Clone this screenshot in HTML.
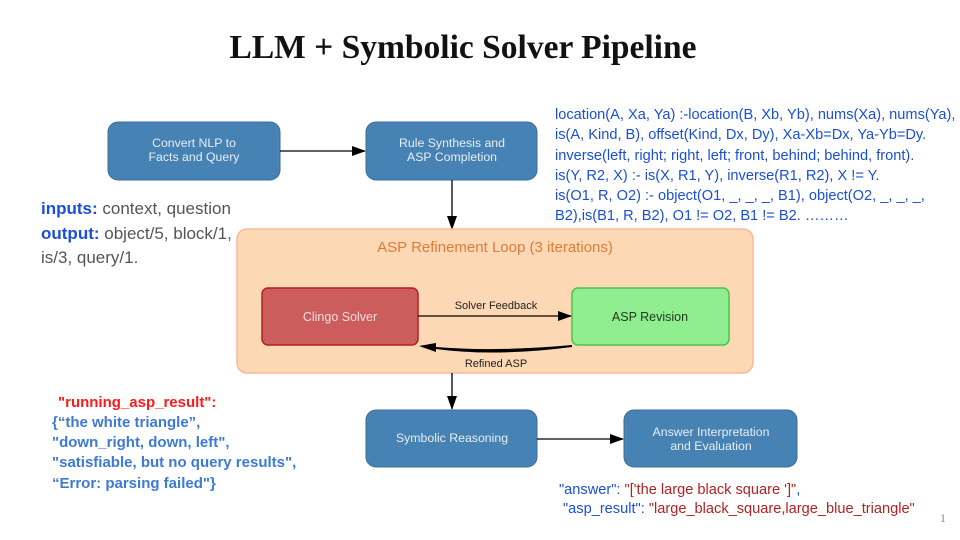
<!DOCTYPE html>
<html><head><meta charset="utf-8"><style>
body{margin:0;background:#fff;}
svg{display:block;}
</style></head><body>
<svg width="960" height="540" viewBox="0 0 960 540" xmlns="http://www.w3.org/2000/svg" font-family="Liberation Sans, sans-serif">
<defs>
<marker id="ah" markerWidth="14" markerHeight="10" refX="13" refY="5" orient="auto" markerUnits="userSpaceOnUse"><path d="M0,0 L14,5 L0,10 z" fill="#000"/></marker>
</defs>
<text x="463" y="58" text-anchor="middle" font-family="Liberation Serif, serif" font-weight="bold" font-size="33.5" fill="#111">LLM + Symbolic Solver Pipeline</text>

<g font-size="14.6" fill="#1a4fd6">
<text x="555" y="119">location(A, Xa, Ya) :-location(B, Xb, Yb), nums(Xa), nums(Ya),</text>
<text x="555" y="139">is(A, Kind, B), offset(Kind, Dx, Dy), Xa-Xb=Dx, Ya-Yb=Dy.</text>
<text x="555" y="160">inverse(left, right; right, left; front, behind; behind, front).</text>
<text x="555" y="180">is(Y, R2, X) :- is(X, R1, Y), inverse(R1, R2), X != Y.</text>
<text x="555" y="200">is(O1, R, O2) :- object(O1, _, _, _, B1), object(O2, _, _, _,</text>
<text x="555" y="220">B2),is(B1, R, B2), O1 != O2, B1 != B2.  ………</text>
</g>

<g font-size="17">
<text x="41" y="214"><tspan fill="#1a4fd6" font-weight="bold">inputs:</tspan><tspan fill="#555"> context, question</tspan></text>
<text x="41" y="239"><tspan fill="#1a4fd6" font-weight="bold">output:</tspan><tspan fill="#555"> object/5, block/1,</tspan></text>
<text x="41" y="263" fill="#555">is/3,  query/1.</text>
</g>

<rect x="108" y="122" width="172" height="58" rx="10" fill="#4682b4" stroke="#3a6d99"/>
<text x="194" y="147" text-anchor="middle" font-size="12.3" fill="#e8eef5">Convert NLP to</text>
<text x="194" y="161" text-anchor="middle" font-size="12.3" fill="#e8eef5">Facts and Query</text>
<rect x="366" y="122" width="171" height="58" rx="10" fill="#4682b4" stroke="#3a6d99"/>
<text x="452" y="147" text-anchor="middle" font-size="12.3" fill="#e8eef5">Rule Synthesis and</text>
<text x="452" y="161" text-anchor="middle" font-size="12.3" fill="#e8eef5">ASP Completion</text>
<line x1="280" y1="151" x2="365" y2="151" stroke="#000" stroke-width="1.3" marker-end="url(#ah)"/>
<line x1="452" y1="180" x2="452" y2="229" stroke="#000" stroke-width="1.3" marker-end="url(#ah)"/>

<rect x="237" y="229" width="516" height="144" rx="10" fill="#fdd8b5" stroke="#f9b89a" stroke-width="1.5"/>
<text x="495" y="252" text-anchor="middle" font-size="15" fill="#e07b3a">ASP Refinement Loop (3 iterations)</text>
<rect x="262" y="288" width="156" height="57" rx="6" fill="#cd5c5c" stroke="#b22222" stroke-width="1.5"/>
<text x="340" y="321" text-anchor="middle" font-size="12.5" fill="#f3dede">Clingo Solver</text>
<rect x="572" y="288" width="157" height="57" rx="6" fill="#90ee90" stroke="#4cc44c" stroke-width="1.5"/>
<text x="650" y="321" text-anchor="middle" font-size="12.5" fill="#1d3a1d">ASP Revision</text>
<line x1="418" y1="316" x2="571" y2="316" stroke="#000" stroke-width="1.2" marker-end="url(#ah)"/>
<text x="496" y="309" text-anchor="middle" font-size="11" fill="#222">Solver Feedback</text>
<path d="M572,345 Q495,352 436,347 L436,343 L419,346 L436,352 L436,349 Q495,357 572,347 z" fill="#000"/>
<text x="496" y="367" text-anchor="middle" font-size="11" fill="#222">Refined ASP</text>
<line x1="452" y1="373" x2="452" y2="409" stroke="#000" stroke-width="1.3" marker-end="url(#ah)"/>

<rect x="366" y="410" width="171" height="57" rx="10" fill="#4682b4" stroke="#3a6d99"/>
<text x="452" y="442" text-anchor="middle" font-size="12.3" fill="#e8eef5">Symbolic Reasoning</text>
<rect x="624" y="410" width="173" height="57" rx="10" fill="#4682b4" stroke="#3a6d99"/>
<text x="711" y="436" text-anchor="middle" font-size="12.3" fill="#e8eef5">Answer Interpretation</text>
<text x="711" y="450" text-anchor="middle" font-size="12.3" fill="#e8eef5">and Evaluation</text>
<line x1="537" y1="439" x2="623" y2="439" stroke="#000" stroke-width="1.3" marker-end="url(#ah)"/>

<g font-size="15" font-weight="bold">
<text x="58" y="407" fill="#ff1a1a">"running_asp_result":</text>
<text x="52" y="427" fill="#3d7ad6">{“the white triangle”,</text>
<text x="52" y="447" fill="#3d7ad6">"down_right, down, left",</text>
<text x="52" y="467" fill="#3d7ad6">"satisfiable, but no query results",</text>
<text x="52" y="488" fill="#3d7ad6">“Error: parsing failed"}</text>
</g>

<g font-size="14.6">
<text x="559" y="494"><tspan fill="#1a4fd6">"answer": </tspan><tspan fill="#b22222">"['the large black square ']"</tspan><tspan fill="#1a4fd6">,</tspan></text>
<text x="563" y="513"><tspan fill="#1a4fd6">"asp_result": </tspan><tspan fill="#b22222">"large_black_square,large_blue_triangle"</tspan></text>
</g>
<text x="940" y="522" font-family="Liberation Serif, serif" font-size="12" fill="#888">1</text>
</svg>
</body></html>
